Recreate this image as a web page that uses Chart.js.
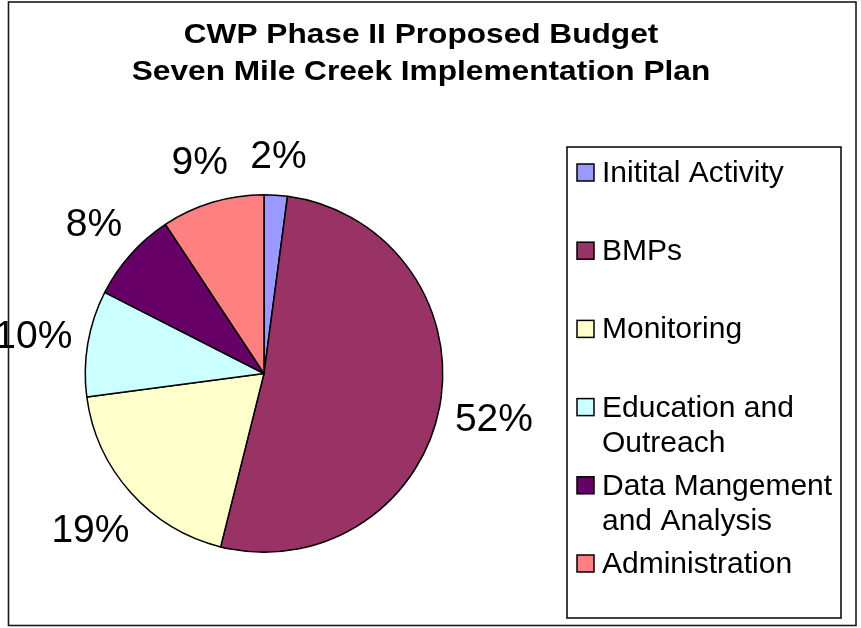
<!DOCTYPE html>
<html><head><meta charset="utf-8">
<script src="https://cdn.jsdelivr.net/npm/chart.js@4.4.1/dist/chart.umd.min.js"></script>
<style>html,body{margin:0;padding:0;background:#fff}#wrap{width:861px;height:628px;position:relative}canvas{display:block}</style>
</head><body><div id="wrap"><canvas id="c" width="861" height="628"></canvas></div>
<script>
const titleLines = ["CWP Phase II Proposed Budget", "Seven Mile Creek Implementation Plan"];
const categories = ["Initital Activity", "BMPs", "Monitoring", "Education and Outreach", "Data Mangement and Analysis", "Administration"];
const values = [2.1, 51.8, 19.0, 9.6, 8.2, 9.3];
const percentLabels = ["2%", "52%", "19%", "10%", "8%", "9%"];
const colors = ["#9999FF", "#993366", "#FFFFCC", "#CCFFFF", "#660066", "#FF8080"];

const FONT = '"Liberation Sans", Arial, sans-serif';

function wrapText(ctx, text, maxW) {
  const words = text.split(' ');
  const lines = [];
  let cur = '';
  for (const w of words) {
    const t = cur ? cur + ' ' + w : w;
    if (ctx.measureText(t).width > maxW && cur) { lines.push(cur); cur = w; }
    else cur = t;
  }
  if (cur) lines.push(cur);
  return lines;
}

const decor = {
  id: 'decor',
  afterDraw(chart) {
    const ctx = chart.ctx;
    ctx.save();
    // title
    ctx.fillStyle = '#000';
    ctx.font = 'bold 28px ' + FONT;
    ctx.textAlign = 'center';
    ctx.textBaseline = 'alphabetic';
    const tb = [43, 80];
    titleLines.forEach((t, i) => {
      ctx.save();
      ctx.translate(421, tb[i]);
      ctx.scale(1.13, 1);
      ctx.fillText(t, 0, 0);
      ctx.restore();
    });
    // percentage labels, placed outside each slice along its mid-angle
    const meta = chart.getDatasetMeta(0);
    ctx.font = '39px ' + FONT;
    ctx.textAlign = 'center';
    meta.data.forEach((arc, i) => {
      const p = arc.getProps(['x', 'y', 'startAngle', 'endAngle', 'outerRadius'], true);
      const mid = (p.startAngle + p.endAngle) / 2;
      const dx = Math.cos(mid), dy = Math.sin(mid);
      const w = ctx.measureText(percentLabels[i]).width;
      const h = Math.abs(dx) * w / 2 + Math.abs(dy) * 14;
      const R = p.outerRadius + 32 + 0.57 * h;
      const cx = p.x + dx * R;
      const cy = p.y + dy * R;
      ctx.fillText(percentLabels[i], cx, cy + 14);
    });
    // legend
    const lx = 567, ly = 147, lw = 274, lh = 471;
    ctx.lineWidth = 1.5;
    ctx.strokeStyle = '#000';
    ctx.strokeRect(lx, ly, lw, lh);
    ctx.font = '30px ' + FONT;
    ctx.textAlign = 'left';
    categories.forEach((c, i) => {
      const base = 182 + 78.2 * i;
      ctx.fillStyle = colors[i];
      ctx.fillRect(577, base - 18, 17, 17);
      ctx.strokeRect(577, base - 18, 17, 17);
      ctx.fillStyle = '#000';
      const lines = wrapText(ctx, c, 240);
      lines.forEach((ln, j) => ctx.fillText(ln, 602, base + j * 35));
    });
    // outer frame
    ctx.strokeStyle = '#1a1a1a';
    ctx.lineWidth = 1.6;
    ctx.strokeRect(8.5, 2, 847.5, 623.5);
    ctx.restore();
  }
};

new Chart(document.getElementById('c'), {
  type: 'pie',
  data: {
    labels: categories,
    datasets: [{
      data: values,
      backgroundColor: colors,
      borderColor: '#000',
      borderWidth: 1.5
    }]
  },
  options: {
    responsive: false,
    animation: false,
    devicePixelRatio: 1,
    layout: { padding: { left: 84, right: 417, top: 194, bottom: 75 } },
    plugins: { legend: { display: false }, tooltip: { enabled: false }, title: { display: false } }
  },
  plugins: [decor]
});
</script>
</body></html>
